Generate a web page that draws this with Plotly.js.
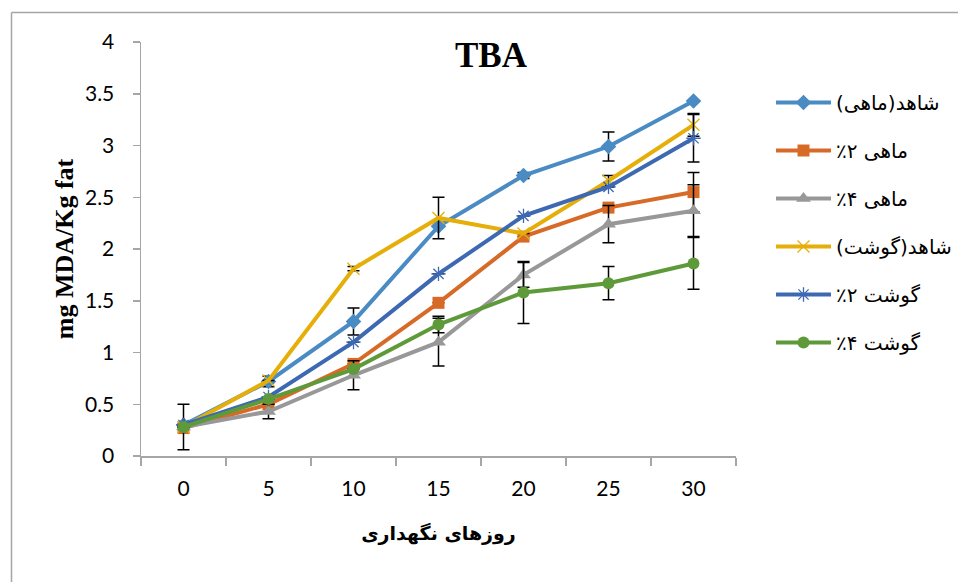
<!DOCTYPE html>
<html>
<head>
<meta charset="utf-8">
<script src="https://cdn.plot.ly/plotly-3.0.1.min.js"></script>
<style>html,body{margin:0;padding:0;background:#fff;}#chart{width:958px;height:582px;}</style>
</head>
<body>
<div id="chart"></div>
<script>
// Storage days (category labels)
const days = ['0', '5', '10', '15', '20', '25', '30'];

// Series names (RTL marks keep Persian ordering in SVG text)
const RLM = '\u200F';
const nameFishControl = RLM + 'شاهد(ماهی)' + RLM;
const nameFish2 = RLM + 'ماهی ۲٪' + RLM;
const nameFish4 = RLM + 'ماهی ۴٪' + RLM;
const nameMeatControl = RLM + 'شاهد(گوشت)' + RLM;
const nameMeat2 = RLM + 'گوشت ۲٪' + RLM;
const nameMeat4 = RLM + 'گوشت ۴٪' + RLM;

// TBA values (mg MDA/Kg fat)
const fishControl = [0.30, 0.72, 1.30, 2.22, 2.71, 2.99, 3.43];
const fish2 = [0.27, 0.50, 0.89, 1.48, 2.12, 2.40, 2.55];
const fish4 = [0.28, 0.43, 0.78, 1.10, 1.75, 2.24, 2.37];
const meatControl = [0.28, 0.73, 1.81, 2.30, 2.15, 2.66, 3.20];
const meat2 = [0.30, 0.57, 1.10, 1.76, 2.32, 2.60, 3.07];
const meat4 = [0.28, 0.55, 0.84, 1.27, 1.58, 1.67, 1.86];

// Error bar half-widths (estimated)
const errFishControl = [0, 0.05, 0.13, 0, 0.03, 0.14, 0];
const errFish2 = [0, 0, 0, 0, 0, 0, 0.19];
const errFish4 = [0.22, 0.07, 0.14, 0.23, 0.12, 0.18, 0.25];
const errMeatControl = [0, 0, 0.02, 0.20, 0, 0.05, 0.11];
const errMeat2 = [0, 0, 0, 0, 0, 0, 0.23];
const errMeat4 = [0, 0, 0, 0.08, 0.30, 0.16, 0.25];

const yTickVals = [0, 0.5, 1, 1.5, 2, 2.5, 3, 3.5, 4];
const yTickText = ['0', '0.5', '1', '1.5', '2', '2.5', '3', '3.5', '4'];

const axisGray = '#a6a6a6';

function series(name, y, err, color, symbol, open, group) {
  return {
    type: 'scatter', mode: 'lines+markers', x: days, y: y, name: name,
    legendgroup: group,
    line: {color: color, width: 4},
    marker: open
      ? {symbol: symbol, size: 12, color: color, line: {color: color, width: 1.3}}
      : {symbol: symbol, size: symbol === 'triangle-up' ? 13 : 12, color: color, line: {width: 0}},
    error_y: {type: 'data', array: err, visible: true, color: '#000', thickness: 1.5, width: 6}
  };
}

const data = [
  series(nameFishControl, fishControl, errFishControl, '#4a8bc4', 'diamond', false, 'g1'),
  series(nameFish2, fish2, errFish2, '#d86a28', 'square', false, 'g2'),
  series(nameFish4, fish4, errFish4, '#989898', 'triangle-up', false, 'g3'),
  series(nameMeatControl, meatControl, errMeatControl, '#e5ae08', 'x-thin-open', true, 'g4'),
  series(nameMeat2, meat2, errMeat2, '#3d68b2', 'asterisk-open', true, 'g5'),
  series(nameMeat4, meat4, errMeat4, '#5e9a3a', 'circle', false, 'g6')
];

const layout = {
  width: 958, height: 582,
  margin: {l: 141, r: 222, t: 42, b: 126, pad: 0, autoexpand: false},
  paper_bgcolor: '#fff', plot_bgcolor: '#fff',
  showlegend: true,
  title: {
    text: 'TBA', x: 491 / 958, xanchor: 'center', y: 1 - 55 / 582, yanchor: 'middle',
    font: {family: 'Liberation Serif, Times New Roman, serif', size: 35, color: '#000', weight: 700}
  },
  xaxis: {
    type: 'category', range: [-0.5, 6.5], fixedrange: true,
    showline: true, linecolor: axisGray, linewidth: 1.5,
    ticks: 'outside', tickson: 'boundaries', ticklen: 8, tickcolor: axisGray, tickwidth: 1.5,
    ticklabelstandoff: 13,
    showgrid: false, zeroline: false,
    tickfont: {family: 'Lato, Open Sans, sans-serif', size: 21, color: '#000'},
    title: {
      text: 'روزهای نگهداری', standoff: 28,
      font: {family: 'DejaVu Sans, sans-serif', size: 19, color: '#000', weight: 700}
    },
    automargin: false
  },
  yaxis: {
    range: [0, 4], fixedrange: true,
    tickvals: yTickVals, ticktext: yTickText,
    showline: true, linecolor: axisGray, linewidth: 1.5,
    ticks: 'outside', ticklen: 7, tickcolor: axisGray, tickwidth: 1.5,
    ticklabelstandoff: 14,
    showgrid: false, zeroline: false,
    tickfont: {family: 'Lato, Open Sans, sans-serif', size: 21, color: '#000'},
    title: {
      text: 'mg MDA/Kg fat', standoff: 4,
      font: {family: 'Liberation Serif, Times New Roman, serif', size: 26, color: '#000', weight: 700}
    },
    automargin: false
  },
  legend: {
    x: (771 - 141) / 595, xanchor: 'left', y: (456 - 83) / 414, yanchor: 'top',
    traceorder: 'grouped', tracegroupgap: 19, itemwidth: 55,
    font: {family: 'DejaVu Sans, sans-serif', size: 20, color: '#000'},
    bgcolor: 'rgba(0,0,0,0)', borderwidth: 0
  },
  shapes: [
    {type: 'line', xref: 'paper', yref: 'paper', x0: (11.5 - 141) / 595, x1: (11.5 - 141) / 595, y0: (456 - 12.5) / 414, y1: -0.5, line: {color: '#a5a5a5', width: 1.5}},
    {type: 'line', xref: 'paper', yref: 'paper', x0: (11.5 - 141) / 595, x1: 1.6, y0: (456 - 12.5) / 414, y1: (456 - 12.5) / 414, line: {color: '#a5a5a5', width: 1.5}}
  ]
};

Plotly.newPlot('chart', data, layout, {displayModeBar: false, staticPlot: true});
</script>
</body>
</html>
